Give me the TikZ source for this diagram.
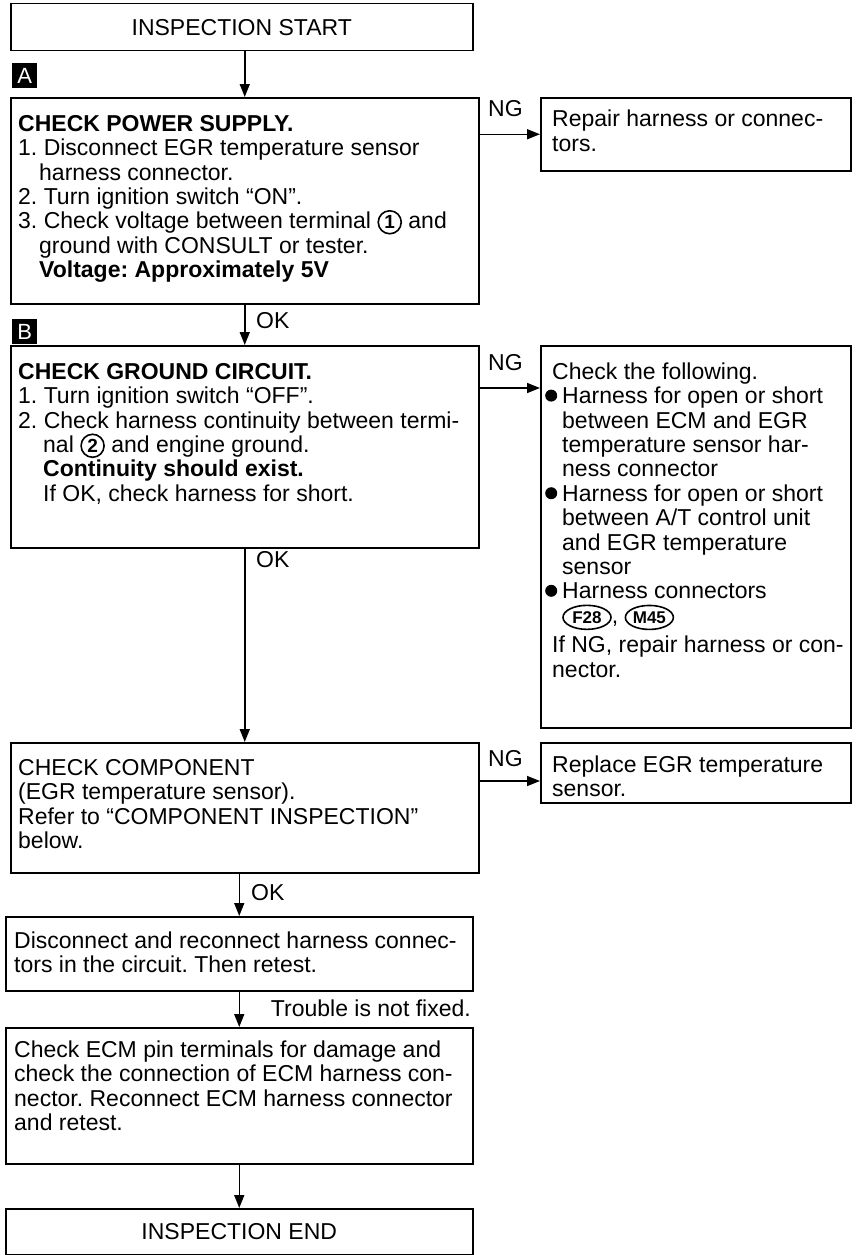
\documentclass[tikz,border=0pt]{standalone}
\usepackage{fontspec}
\setmainfont{Liberation Sans}
\usetikzlibrary{arrows.meta,shapes.geometric,calc}
\newcommand\fsz{\fontsize{23}{24.4}\selectfont\frenchspacing}
\newcommand\cnum[1]{\tikz[baseline=(cn.base)]\node[draw,circle,line width=1.6pt,inner sep=0pt,minimum size=23pt,font=\fontsize{19}{19}\selectfont\bfseries](cn){#1};}
\newcommand\onum[1]{\tikz[baseline=(on.base)]\node[draw,ellipse,line width=1.6pt,inner sep=0pt,minimum width=48pt,minimum height=24pt,font=\fontsize{17}{17}\selectfont\bfseries](on){#1};}
\newcommand\bul{\hspace*{-7pt}\raisebox{2pt}{\tikz\fill (0,0) circle (6pt);}\hspace{5pt}}
\newcommand\st{\rule{0pt}{17pt}}
\tikzset{
  frame/.style={draw, line width=1.5pt, anchor=north west, inner sep=0pt},
  txt/.style={anchor=north west, inner sep=0pt, align=left, font=\fsz},
  flow/.style={line width=1.5pt, -{Triangle[length=13pt,width=10pt]}},
  lbl/.style={font=\fsz, inner sep=0pt},
  tag/.style={fill=black, text=white, minimum width=25pt, minimum height=25pt, inner sep=0pt, font=\fontsize{22}{22}\selectfont, anchor=north west}
}
\begin{document}
\begin{tikzpicture}[x=1pt,y=-1pt]
\useasboundingbox (0,0) rectangle (858,1255);
% start
\node[frame, minimum width=462pt, minimum height=47pt] (S) at (10,3) {};
\node[lbl] (St) at (S.center) {INSPECTION START};
\node[tag] (tA) at (12,63) {A};
% box A
\node[frame, minimum width=468pt, minimum height=206pt] (A) at (10,97) {};
\node[txt] (At) at ($(A.north west)+(8,17)$) {\st{\bfseries CHECK POWER SUPPLY.}\\
1. Disconnect EGR temperature sensor\\
\hspace*{21pt}harness connector.\\
2. Turn ignition switch “ON”.\\
3. Check voltage between terminal \cnum{1} and\\
\hspace*{21pt}ground with CONSULT or tester.\\
\hspace*{21pt}{\bfseries Voltage: Approximately 5V}};
\node[frame, minimum width=310pt, minimum height=73pt] (R1) at (540,97) {};
\node[txt] (R1t) at ($(R1.north west)+(12,12.5)$) {\st Repair harness or connec-\\tors.};
% box B
\node[tag] (tB) at (12,319) {B};
\node[frame, minimum width=468pt, minimum height=202pt] (B) at (10,345) {};
\node[txt] (Bt) at ($(B.north west)+(8,17)$) {\st{\bfseries CHECK GROUND CIRCUIT.}\\
1. Turn ignition switch “OFF”.\\
2. Check harness continuity between termi-\\
\hspace*{25pt}nal \cnum{2} and engine ground.\\
\hspace*{25pt}{\bfseries Continuity should exist.}\\
\hspace*{25pt}If OK, check harness for short.};
\node[frame, minimum width=310pt, minimum height=382pt] (R2) at (540,345) {};
\node[txt] (R2t) at ($(R2.north west)+(12,17)$) {\st Check the following.\\
\bul Harness for open or short\\
\hspace*{10pt}between ECM and EGR\\
\hspace*{10pt}temperature sensor har-\\
\hspace*{10pt}ness connector\\
\bul Harness for open or short\\
\hspace*{10pt}between A/T control unit\\
\hspace*{10pt}and EGR temperature\\
\hspace*{10pt}sensor\\
\bul Harness connectors\\
\hspace*{10pt}\onum{F28}, \onum{M45}\\[5pt]
If NG, repair harness or con-\\
nector.};
% box C
\node[frame, minimum width=468pt, minimum height=130pt] (C) at (10,742) {};
\node[txt] (Ct) at ($(C.north west)+(8,16)$) {\st CHECK COMPONENT\\
(EGR temperature sensor).\\
Refer to “COMPONENT INSPECTION”\\
below.};
\node[frame, minimum width=310pt, minimum height=60pt] (R3) at (540,742) {};
\node[txt] (R3t) at ($(R3.north west)+(12,13)$) {\st Replace EGR temperature\\sensor.};
% box D
\node[frame, minimum width=467pt, minimum height=74pt] (D) at (5,916) {};
\node[txt] (Dt) at ($(D.north west)+(9,15)$) {\st Disconnect and reconnect harness connec-\\tors in the circuit. Then retest.};
% box E
\node[frame, minimum width=467pt, minimum height=136pt] (E) at (5,1027) {};
\node[txt] (Et) at ($(E.north west)+(9,13)$) {\st Check ECM pin terminals for damage and\\
check the connection of ECM harness con-\\
nector. Reconnect ECM harness connector\\
and retest.};
% end
\node[frame, minimum width=467pt, minimum height=46pt] (F) at (5,1208) {};
\node[lbl] (Ft) at (F.center) {INSPECTION END};
% connectors
\draw[flow] (S.south -| A.north) -- (A.north);
\draw[flow] (A.south) -- (A.south |- B.north);
\node[lbl, anchor=base west] (ok1) at (256,328) {OK};
\draw[flow] (B.south) -- (B.south |- C.north);
\node[lbl, anchor=base west] (ok2) at (256,567) {OK};
\draw[flow] (C.south -| D.north) -- (D.north);
\node[lbl, anchor=base west] (ok3) at (251,900) {OK};
\draw[flow] (D.south) -- (E.north);
\node[lbl, anchor=base east] (tr) at (471,1016) {Trouble is not fixed.};
\draw[flow] (E.south) -- (F.north);
\coordinate (a1) at (A.east |- R1.west);
\draw[flow] (a1) -- (R1.west);
\node[lbl, anchor=base west] (ng1) at (488,116) {NG};
\coordinate (b1) at ($(B.north east)+(0,43)$);
\draw[flow] (b1) -- (b1 -| R2.west);
\node[lbl, anchor=base west] (ng2) at (488,370) {NG};
\coordinate (c1) at ($(C.north east)+(0,39)$);
\draw[flow] (c1) -- (c1 -| R3.west);
\node[lbl, anchor=base west] (ng3) at (488,766) {NG};
\end{tikzpicture}
\end{document}
